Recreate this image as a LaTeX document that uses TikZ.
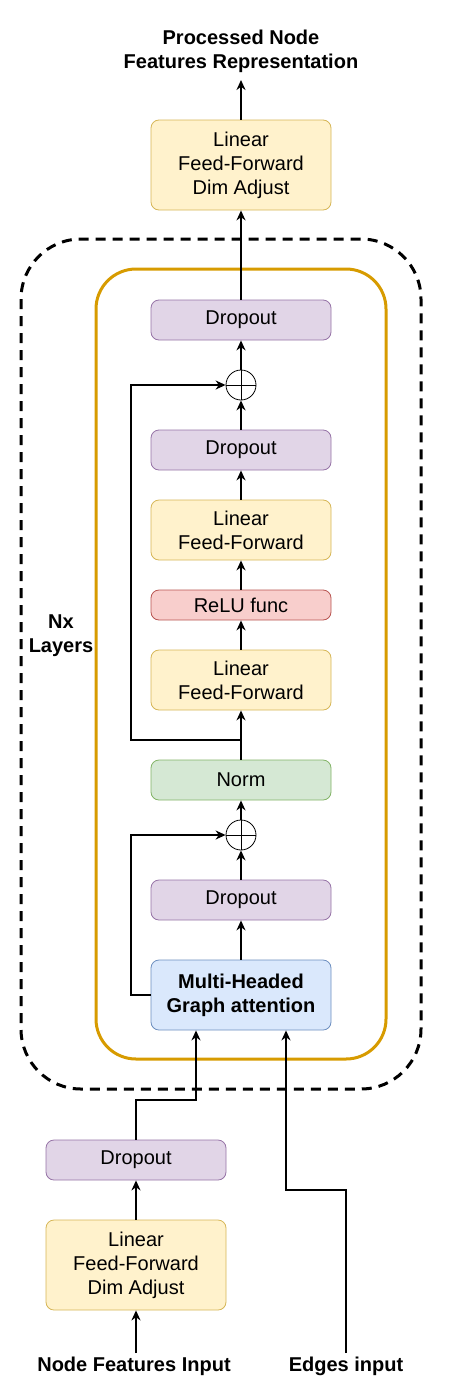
\documentclass[tikz,border=0pt]{standalone}
\usepackage{fontspec}
\setmainfont{Liberation Sans}
\usepackage{tikz}
\usetikzlibrary{arrows.meta,positioning}

\definecolor{dropfill}{HTML}{E1D5E7}
\definecolor{dropline}{HTML}{9673A6}
\definecolor{linfill}{HTML}{FFF2CC}
\definecolor{linline}{HTML}{D6B656}
\definecolor{relufill}{HTML}{F8CECC}
\definecolor{reluline}{HTML}{B85450}
\definecolor{normfill}{HTML}{D5E8D4}
\definecolor{normline}{HTML}{82B366}
\definecolor{attfill}{HTML}{DAE8FC}
\definecolor{attline}{HTML}{6C8EBF}
\definecolor{layerline}{HTML}{D79B00}

\begin{document}
\begin{tikzpicture}[x=1pt, y=-1pt, font=\fontsize{20}{24}\selectfont,
  >={Stealth[length=10pt,width=9pt]},
  box/.style={draw, rounded corners=8pt, minimum width=180pt, align=center, line width=0.8pt, inner sep=0pt},
  dropbox/.style={box, fill=dropfill, draw=dropline, minimum height=40pt},
  linbox/.style={box, fill=linfill, draw=linline, minimum height=60pt},
  relubox/.style={box, fill=relufill, draw=reluline, minimum height=30pt},
  normbox/.style={box, fill=normfill, draw=normline, minimum height=40pt},
  attbox/.style={box, fill=attfill, draw=attline, minimum height=70pt, font=\fontsize{20}{24}\selectfont\bfseries},
  sumnode/.style={circle, draw, minimum size=30pt, inner sep=0pt, line width=0.8pt,
    path picture={\draw[line width=0.8pt] (path picture bounding box.north) -- (path picture bounding box.south)
      (path picture bounding box.west) -- (path picture bounding box.east);}},
  flow/.style={->, line width=2pt},
  caption/.style={font=\fontsize{20}{24}\selectfont\bfseries, align=center}]
\useasboundingbox (0,0) rectangle (462,1400);
%%%%% Layer frames %%%%%
\draw[line width=3pt, dash pattern=on 10pt off 7pt, rounded corners=60pt] (21,239) rectangle (421,1089);
\draw[layerline, line width=3pt, rounded corners=40pt] (96,269) rectangle (386,1059);
\node[caption] (nx) at (61,636) {Nx\\Layers};
%%%%% Output %%%%%
\node[caption] (out) at (241,51) {Processed Node\\Features Representation};
\node[linbox, minimum height=90pt] (topadj) at (241,165) {Linear\\Feed-Forward\\Dim Adjust};
%%%%% Layer %%%%%
\node[dropbox] (drop1) at (241,320) {Dropout};
\node[sumnode] (sum1) at (241,385) {};
\node[dropbox] (drop2) at (241,450) {Dropout};
\node[linbox] (ff2) at (241,530) {Linear\\Feed-Forward};
\node[relubox] (relu) at (241,605) {ReLU func};
\node[linbox] (ff1) at (241,680) {Linear\\Feed-Forward};
\node[normbox] (norm) at (241,780) {Norm};
\node[sumnode] (sum2) at (241,835) {};
\node[dropbox] (drop3) at (241,900) {Dropout};
\node[attbox] (att) at (241,995) {Multi-Headed\\Graph attention};
%%%%% Input %%%%%
\node[dropbox] (botdrop) at (136,1160) {Dropout};
\node[linbox, minimum height=90pt] (botadj) at (136,1265) {Linear\\Feed-Forward\\Dim Adjust};
\node[caption] (nodein) at (134,1366) {Node Features Input};
\node[caption] (edgein) at (346,1366) {Edges input};
\coordinate (br1) at (241,740);
\coordinate (bend1) at (136,1100);
\coordinate (bend2) at (346,1190);
%%%%% Connectors %%%%%
\draw[flow] (topadj) -- (241,80);
\draw[flow] (drop1) -- (topadj);
\draw[flow] (sum1) -- (drop1);
\draw[flow] (drop2) -- (sum1);
\draw[flow] (ff2) -- (drop2);
\draw[flow] (relu) -- (ff2);
\draw[flow] (ff1) -- (relu);
\draw[flow] (norm) -- (ff1);
\draw[flow] (br1) -- (131,740) |- (sum1);
\draw[flow] (sum2) -- (norm);
\draw[flow] (drop3) -- (sum2);
\draw[flow] (att) -- (drop3);
\draw[flow] (att.west) -- ++(-20,0) |- (sum2);
\draw[flow] (botadj) -- (botdrop);
\draw[flow] (nodein.north -| botadj) -- (botadj);
\draw[flow] (botdrop) -- (bend1) -| ([xshift=-45pt]att.south);
\draw[flow] (edgein) -- (bend2) -| ([xshift=45pt]att.south);
\end{tikzpicture}
\end{document}
